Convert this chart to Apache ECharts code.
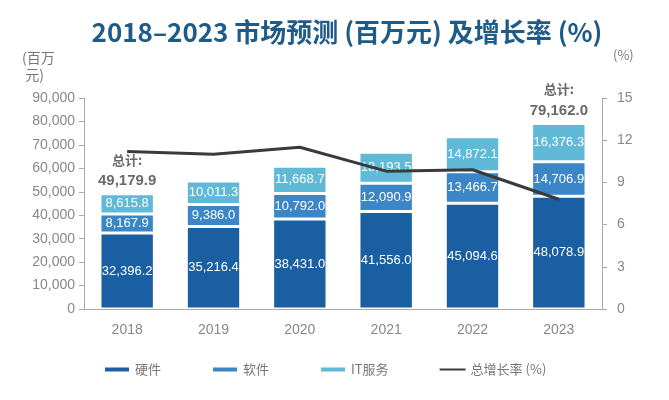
<!DOCTYPE html>
<html>
<head>
<meta charset="utf-8">
<script src="https://cdn.jsdelivr.net/npm/echarts@6/dist/echarts.min.js"></script>
<style>html,body{margin:0;padding:0;background:#fff;}#c{width:669px;height:400px;}</style>
</head>
<body>
<div id="c"></div>
<script>
const years = ['2018','2019','2020','2021','2022','2023'];
const hardware = [32396.2, 35216.4, 38431.0, 41556.0, 45094.6, 48078.9];
const software = [8167.9, 9386.0, 10792.0, 12090.9, 13466.7, 14706.9];
const itService = [8615.8, 10011.3, 11668.7, 13193.5, 14872.1, 16376.3];
const growth = [11.2, 11.0, 11.5, 9.8, 9.9, 7.8];
const totalLabels = [49179.9, null, null, null, null, 79162.0];
const leftTicks = [0, 90000, 10000];
const rightTicks = [0, 15, 3];

const fmt = v => v.toLocaleString('en-US', {minimumFractionDigits:1, maximumFractionDigits:1});

const chart = echarts.init(document.getElementById('c'), null, {renderer:'canvas'});
const barLabel = {
  show: true, position: 'inside', color: '#fff', fontSize: 13,
  fontFamily: 'Liberation Sans, Arial, sans-serif', formatter: p => fmt(p.value)
};
const barCommon = {
  type: 'bar', stack: 'total', barWidth: '63%',
  label: barLabel
};
chart.setOption({
  animation: false,
  textStyle: {fontFamily: 'Noto Sans CJK SC, Noto Sans, sans-serif'},
  title: {
    text: '2018–2023 市场预测 (百万元) 及增长率 (%)',
    left: 342, top: 14, textAlign: 'center',
    textStyle: {fontSize: 26, fontWeight: 'bold', color: '#1f5b88', fontFamily: 'Noto Sans CJK SC, sans-serif'}
  },
  graphic: [
    {type: 'text', left: 22, top: 49, style: {text: '(百万\n 元)', fontSize: 14, fill: '#777', lineHeight: 17, fontFamily: 'Noto Sans CJK SC'}},
    {type: 'text', left: 613, top: 49, style: {text: '(%)', fontSize: 13, fill: '#777', fontFamily: 'Noto Sans CJK SC'}}
  ],
  legend: {
    data: [
      {name: '硬件', icon: 'rect'},
      {name: '软件', icon: 'rect'},
      {name: 'IT服务', icon: 'rect'},
      {name: '总增长率 (%)', itemStyle: {opacity: 0}}
    ],
    left: 98, top: 358, itemWidth: 26, itemHeight: 6, itemGap: 50,
    textStyle: {color: '#777', fontSize: 13, fontFamily: 'Noto Sans CJK SC'}
  },
  grid: {left: 84, right: 67, top: 98, bottom: 91},
  xAxis: {
    type: 'category', data: years,
    axisLine: {lineStyle: {color: '#aaa', width: 1}},
    axisTick: {show: false},
    axisLabel: {color: '#888', fontSize: 14, margin: 14, fontFamily: 'Liberation Sans, Arial'}
  },
  yAxis: [
    {
      type: 'value', min: leftTicks[0], max: leftTicks[1], interval: leftTicks[2],
      splitLine: {show: false},
      axisLine: {show: true, lineStyle: {color: '#aaa'}},
      axisTick: {show: true, length: 5, lineStyle: {color: '#aaa'}},
      axisLabel: {color: '#888', fontSize: 14, margin: 9, fontFamily: 'Liberation Sans, Arial',
        formatter: v => v.toLocaleString('en-US')}
    },
    {
      type: 'value', min: rightTicks[0], max: rightTicks[1], interval: rightTicks[2],
      splitLine: {show: false},
      axisLine: {show: true, lineStyle: {color: '#aaa'}},
      axisTick: {show: true, length: 5, lineStyle: {color: '#aaa'}},
      axisLabel: {color: '#888', fontSize: 14, margin: 15, fontFamily: 'Liberation Sans, Arial'}
    }
  ],
  series: [
    Object.assign({}, barCommon, {name: '硬件', data: hardware,
      itemStyle: {color: '#1b5fa3', borderColor: '#fff', borderWidth: 1.5}}),
    Object.assign({}, barCommon, {name: '软件', data: software,
      itemStyle: {color: '#3b86c6', borderColor: '#fff', borderWidth: 1.5}}),
    Object.assign({}, barCommon, {name: 'IT服务', data: itService,
      itemStyle: {color: '#5fb9d7', borderColor: '#fff', borderWidth: 1.5}}),
    {
      name: '总增长率 (%)', type: 'line', yAxisIndex: 1, data: growth,
      symbol: 'none', z: 5,
      lineStyle: {color: '#3a3a3a', width: 3}, itemStyle: {color: '#3a3a3a'}
    },
    {
      name: '总计', type: 'scatter', symbolSize: 0, z: 6,
      data: totalLabels,
      label: {
        show: true, position: 'top', distance: 3,
        formatter: p => '{a|总计:}\n{b|' + fmt(p.value) + '}',
        rich: {
          a: {fontSize: 13, fontWeight: 'bold', color: '#444', lineHeight: 22, fontFamily: 'Noto Sans CJK SC'},
          b: {fontSize: 15, fontWeight: 'bold', color: '#444', lineHeight: 20, fontFamily: 'Liberation Sans, Arial'}
        }
      }
    }
  ]
});
</script>
</body>
</html>
